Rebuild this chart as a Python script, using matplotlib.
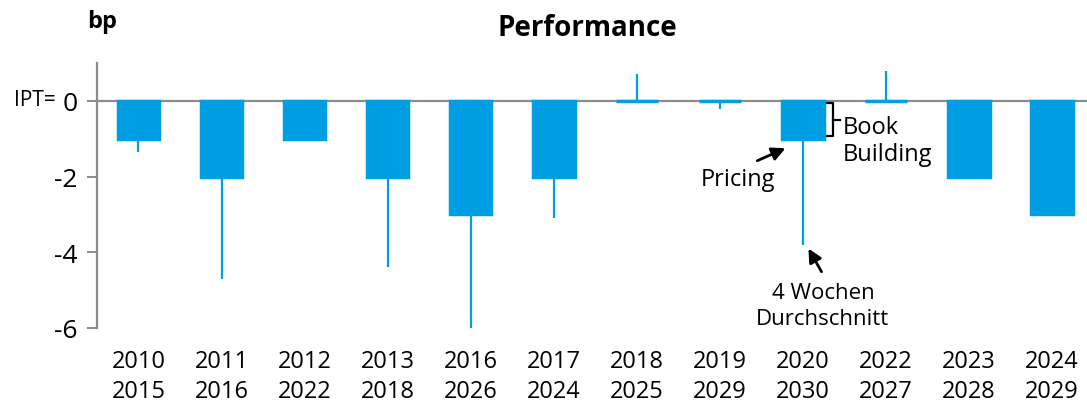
"""
plot.py
IPO performance vs IPT (bp) - bars with 4-week average whiskers
"""

import matplotlib
matplotlib.use("Agg")
import matplotlib.pyplot as plt

# Data
labels = ["2010\n2015", "2011\n2016", "2012\n2022", "2013\n2018", "2016\n2026", "2017\n2024",
          "2018\n2025", "2019\n2029", "2020\n2030", "2022\n2027", "2023\n2028", "2024\n2029"]
pricing = [-1, -2, -1, -2, -3, -2, 0, 0, -1, 0, -2, -3]
avg_4w = [-1.35, -4.7, -1, -4.4, -6.0, -3.1, 0.7, -0.2, -3.8, 0.8, -2, -3]

BLUE = "#009FE3"
GREY = "#8C8C8C"

plt.rcParams["font.family"] = ["Open Sans", "DejaVu Sans"]

fig = plt.figure(figsize=(10.87, 4.06), dpi=100)
ax = fig.add_axes([0.0892, 0.19, 0.9108, 0.652])

x = list(range(len(labels)))

# whiskers (4 week average), drawn from zero
ax.vlines(x, 0, avg_4w, color=BLUE, linewidth=1.6, zorder=2)
ax.axhline(0, color=GREY, linewidth=1.6, zorder=1)
ax.bar(x, pricing, width=0.5, color=BLUE, edgecolor=BLUE, linewidth=2.5, zorder=3)

ax.set_xlim(-0.5, 11.42)
ax.set_ylim(-6, 1)

for side in ["top", "right", "bottom"]:
    ax.spines[side].set_visible(False)
ax.spines["left"].set_color(GREY)
ax.spines["left"].set_linewidth(1.6)

ax.set_yticks([0, -2, -4, -6])
ax.set_yticklabels(["0", "-2", "-4", "-6"], fontsize=19)
ax.tick_params(axis="y", length=7, width=1.4, color=GREY, pad=7)
ax.set_xticks(x)
ax.set_xticklabels(labels, fontsize=17, linespacing=1.35)
ax.tick_params(axis="x", length=0, pad=15)

fig.text(56 / 1087, 1 - 101 / 406, "IPT=", fontsize=15, ha="right", va="center")

fig.text(0.54, 0.93, "Performance", fontsize=20, fontweight="bold", ha="center", va="center")
fig.text(0.08, 0.945, "bp", fontsize=17, fontweight="bold", ha="left", va="center")

# annotations
ax.annotate("", xy=(7.82, -1.22), xytext=(7.42, -1.61),
            arrowprops=dict(arrowstyle="-|>", color="black", lw=2, mutation_scale=20))
ax.text(7.22, -2.06, "Pricing", fontsize=17, ha="center", va="center")

ax.annotate("", xy=(8.05, -3.84), xytext=(8.24, -4.58),
            arrowprops=dict(arrowstyle="-|>", color="black", lw=2, mutation_scale=20))
ax.text(8.24, -4.8, "4 Wochen\nDurchschnitt", fontsize=16, ha="center", va="top",
        linespacing=1.3)

# book building bracket
ax.plot([8.27, 8.36, 8.36, 8.27], [-0.05, -0.05, -0.93, -0.93], color="black", lw=1.6)
ax.plot([8.36, 8.45], [-0.5, -0.5], color="black", lw=1.6)
ax.text(8.48, -0.36, "Book\nBuilding", fontsize=17, ha="left", va="top", linespacing=1.2)

fig.savefig("out.png", dpi=100)
